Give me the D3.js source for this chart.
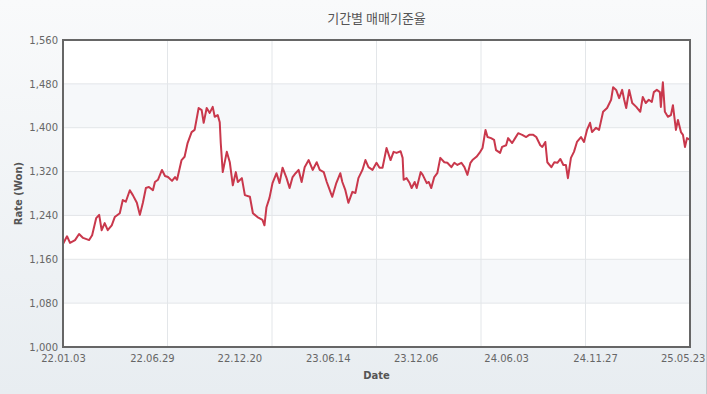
<!DOCTYPE html>
<html>
<head>
<meta charset="utf-8">
<script src="https://cdn.jsdelivr.net/npm/d3@7"></script>
<style>
body { margin: 0; background: #fff; }
.chart { width: 706px; height: 394px; border-right: 1px solid #c4c9ce; background: linear-gradient(#f9fafb, #e8edf1); }
svg { display: block; overflow: hidden; }
</style>
</head>
<body>
<div class="chart"></div>
<script>
"use strict"

// data: day offsets from the first date, rate in won
const startDate = "2022-01-03";
const endOffset = 1248;
const dayOffsets = [
  0,8,14,24,32,40,52,58,66,72,
  77,83,89,97,103,113,119,125,133,139,
  147,153,159,165,171,179,183,189,197,203,
  209,217,223,227,236,242,248,256,262,270,
  276,280,286,292,298,302,308,312,314,318,
  326,332,338,344,348,356,362,372,378,387,
  397,401,405,411,417,425,431,437,445,451,
  457,463,469,475,481,489,497,505,511,519,
  525,533,536,544,552,556,562,568,576,582,
  588,596,602,608,616,624,630,636,644,652,
  658,664,672,676,678,684,690,694,700,704,
  712,716,724,728,733,739,745,751,759,765,
  773,779,785,793,799,805,811,815,823,829,
  835,841,845,852,858,862,870,874,882,886,
  894,900,906,914,922,928,936,942,950,954,
  960,964,972,978,984,990,996,1001,1005,1011,
  1017,1023,1031,1037,1043,1049,1053,1061,1067,1075,
  1083,1091,1095,1101,1107,1113,1117,1121,1127,1133,
  1141,1149,1154,1160,1166,1172,1176,1182,1188,1190,
  1194,1198,1204,1210,1214,1220,1224,1230,1234,1238,
  1242,1248
];
const rates = [
  1188,1202,1190,1195,1206,1199,1195,1204,1235,1241,
  1213,1226,1213,1222,1237,1244,1268,1265,1286,1277,
  1263,1241,1263,1290,1292,1286,1301,1305,1323,1312,
  1310,1303,1310,1305,1341,1347,1372,1392,1396,1436,
  1432,1409,1436,1427,1438,1420,1423,1410,1372,1319,
  1356,1337,1295,1319,1301,1308,1277,1274,1244,1237,
  1232,1222,1255,1272,1299,1317,1299,1327,1308,1290,
  1310,1317,1323,1301,1328,1341,1323,1337,1323,1319,
  1301,1281,1274,1299,1317,1301,1286,1263,1283,1281,
  1308,1323,1341,1328,1323,1336,1327,1327,1363,1341,
  1356,1354,1357,1345,1305,1308,1299,1290,1301,1290,
  1319,1314,1299,1301,1290,1310,1317,1345,1337,1336,
  1328,1336,1332,1336,1328,1314,1336,1341,1347,1354,
  1363,1396,1383,1381,1378,1359,1354,1365,1368,1381,
  1372,1381,1390,1387,1383,1387,1387,1383,1368,1365,
  1374,1337,1328,1337,1336,1343,1332,1332,1308,1345,
  1356,1374,1383,1374,1396,1409,1392,1400,1396,1429,
  1436,1451,1474,1469,1454,1469,1451,1436,1469,1445,
  1438,1429,1456,1445,1451,1447,1465,1469,1465,1438,
  1483,1429,1420,1423,1441,1396,1414,1392,1387,1365,
  1381,1378
];
const tickDates = ["2022-01-03","2022-06-29","2022-12-20","2023-06-14","2023-12-06","2024-06-03","2024-11-27","2025-05-23"];
const yTicks = [1000,1080,1160,1240,1320,1400,1480,1560];

const W = 706, H = 394;
const m = {top: 40, right: 16, bottom: 47, left: 63};
const parse = d3.timeParse("%Y-%m-%d");
const t0 = parse(startDate);
const data = dayOffsets.map((o, i) => ({date: d3.timeDay.offset(t0, o), val: rates[i]}));

let svg = d3.select(".chart").append("svg")
  .attr("width", W)
  .attr("height", H);

let x = d3.scaleTime()
  .domain([t0, d3.timeDay.offset(t0, endOffset)])
  .range([m.left, W - m.right]);
let y = d3.scaleLinear()
  .domain([1000, 1560])
  .range([H - m.bottom, m.top]);

// plot background + alternating bands
svg.append("rect")
  .attr("x", m.left).attr("y", m.top)
  .attr("width", W - m.left - m.right).attr("height", H - m.top - m.bottom)
  .attr("fill", "#fff");

svg.selectAll("rect.band")
  .data(d3.pairs(yTicks).filter((p, i) => i % 2 == 1))
  .enter()
  .append("rect")
  .attr("class", "band")
  .attr("x", m.left)
  .attr("width", W - m.left - m.right)
  .attr("y", d => y(d[1]))
  .attr("height", d => y(d[0]) - y(d[1]))
  .attr("fill", "#f6f8fa");

// gridlines
svg.selectAll("line.hg")
  .data(yTicks)
  .enter()
  .append("line")
  .attr("x1", m.left).attr("x2", W - m.right)
  .attr("y1", d => y(d)).attr("y2", d => y(d))
  .attr("stroke", "#e3e6e9");

let gx = d3.scaleLinear().domain([0, 6]).range(x.range());
svg.selectAll("line.vg")
  .data(d3.range(1, 6))
  .enter()
  .append("line")
  .attr("x1", d => gx(d)).attr("x2", d => gx(d))
  .attr("y1", m.top).attr("y2", H - m.bottom)
  .attr("stroke", "#e3e6e9");

// the line
svg.append("clipPath").attr("id", "clip")
  .append("rect")
  .attr("x", m.left).attr("y", m.top)
  .attr("width", W - m.left - m.right).attr("height", H - m.top - m.bottom);

svg.append("path")
  .datum(data)
  .attr("clip-path", "url(#clip)")
  .attr("fill", "none")
  .attr("stroke", "#c9384c")
  .attr("stroke-width", 2)
  .attr("stroke-linejoin", "round")
  .attr("d", d3.line().x(d => x(d.date)).y(d => y(d.val)));

// frame
svg.append("rect")
  .attr("x", m.left).attr("y", m.top)
  .attr("width", W - m.left - m.right).attr("height", H - m.top - m.bottom)
  .attr("fill", "none")
  .attr("stroke", "#666")
  .attr("stroke-width", 2);

// axes
let yAxis = svg.append("g")
  .attr("transform", "translate(" + (m.left - 2) + ",0)")
  .call(d3.axisLeft(y).tickValues(yTicks).tickSize(0).tickFormat(d3.format(",")));
let xAxis = svg.append("g")
  .attr("transform", "translate(0," + (H - m.bottom + 5) + ")")
  .call(d3.axisBottom(x).tickValues(tickDates.map(parse)).tickSize(0).tickFormat(d3.timeFormat("%y.%m.%d")));
svg.selectAll(".domain").remove();
svg.selectAll(".tick text")
  .attr("fill", "#666")
  .attr("font-family", "DejaVu Sans")
  .attr("font-size", 10);
// keep the last date label inside the page
xAxis.selectAll(".tick:last-of-type text").attr("text-anchor", "end").attr("dx", 21);

// titles
svg.append("text")
  .attr("x", (m.left + W - m.right) / 2).attr("y", 23)
  .attr("text-anchor", "middle")
  .attr("font-family", "Noto Sans CJK KR")
  .attr("font-size", 13)
  .attr("fill", "#555")
  .text("기간별 매매기준율");

svg.append("text")
  .attr("x", (m.left + W - m.right) / 2).attr("y", 379)
  .attr("text-anchor", "middle")
  .attr("font-family", "DejaVu Sans")
  .attr("font-weight", "bold")
  .attr("font-size", 10)
  .attr("fill", "#555")
  .text("Date");

svg.append("text")
  .attr("transform", "translate(22," + ((m.top + H - m.bottom) / 2) + ") rotate(-90)")
  .attr("text-anchor", "middle")
  .attr("font-family", "DejaVu Sans")
  .attr("font-weight", "bold")
  .attr("font-size", 10)
  .attr("fill", "#555")
  .text("Rate (Won)");
</script>
</body>
</html>
